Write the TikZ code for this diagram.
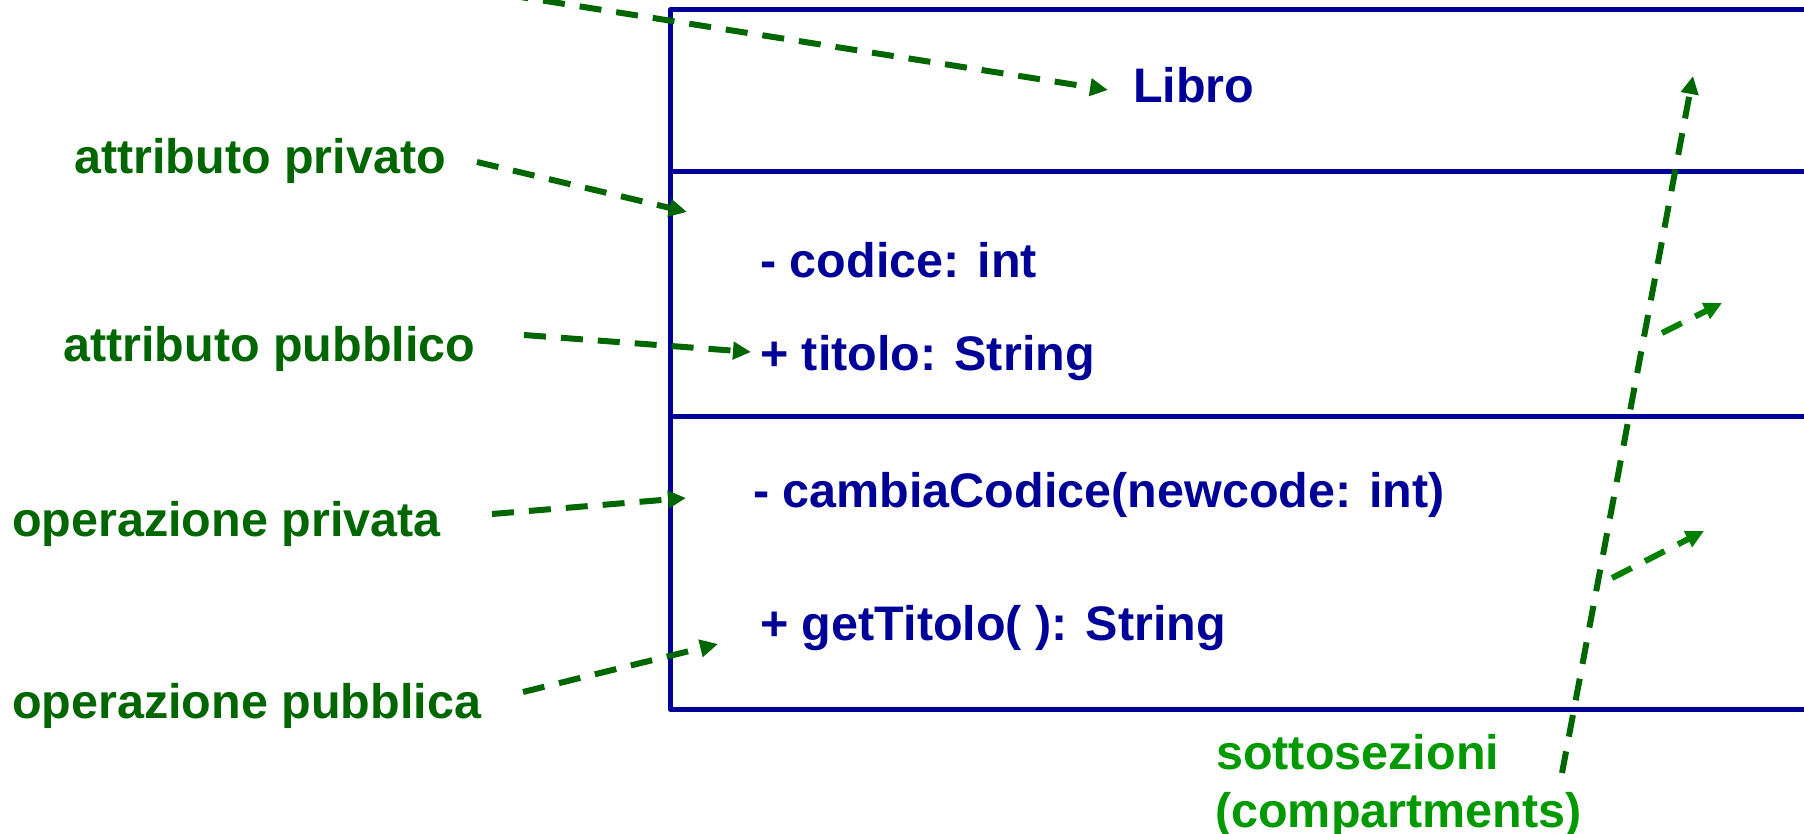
\documentclass[tikz,border=0pt]{standalone}
\usepackage{fontspec}
\setmainfont{Liberation Sans}
\usetikzlibrary{arrows.meta}
\definecolor{umlblue}{HTML}{000099}
\definecolor{notegreen}{HTML}{006600}
\definecolor{subgreen}{HTML}{009900}
\definecolor{branchgreen}{HTML}{007F00}
\begin{document}
\begin{tikzpicture}[x=1pt,y=-1pt,
  boxline/.style={draw=umlblue,line width=5pt,line join=round},
  member/.style={anchor=base west,inner sep=0pt,text=umlblue,font=\fontsize{48.5}{58}\selectfont\bfseries},
  notetext/.style={anchor=base west,inner sep=0pt,text=notegreen,font=\fontsize{48.5}{58}\selectfont\bfseries},
  pointer/.style={draw=notegreen,line width=6pt,dash pattern=on 22pt off 15pt,
    -{Triangle[length=18pt,width=17pt]}},
  branch/.style={pointer,draw=branchgreen}]
\useasboundingbox (0,0) rectangle (1804,834);
\clip (0,0) rectangle (1804,834);
% class box (extends beyond the right edge)
\draw[boxline] (1815,10) -- (670,10) -- (670,709) -- (1815,709);
\draw[boxline] (670,172) -- (1815,172);
\draw[boxline] (670,416) -- (1815,416);
% members
\node[member] (libro) at (1133,103) {Libro};
\node[member] (codice) at (760,278) {- codice: int};
\node[member] (titolo) at (760,370) {+ titolo: String};
\node[member] (cambia) at (753,507) {- cambiaCodice(newcode: int)};
\node[member] (gettit) at (760,640) {+ getTitolo( ): String};
% annotations
\node[notetext] (attpriv) at (74,174) {attributo privato};
\node[notetext] (attpub) at (63,361) {attributo pubblico};
\node[notetext] (oppriv) at (12,536) {operazione privata};
\node[notetext] (oppub) at (12,718) {operazione pubblica};
\node[notetext,text=subgreen] (sotto) at (1216,769) {sottosezioni};
\node[notetext,text=subgreen] (compart) at (1215,827) {(compartments)};
% connector ends
\coordinate (nameS) at (470,-11);
\coordinate (nameE) at (1108,90);
\coordinate (apS) at (477,162);
\coordinate (apE) at (687,212);
\coordinate (apuS) at (524,335);
\coordinate (apuE) at (751,352);
\coordinate (opS) at (492,514);
\coordinate (opE) at (686,498);
\coordinate (opuS) at (523,692);
\coordinate (opuE) at (718,644);
\coordinate (subS) at (1562,773);
\coordinate (subE) at (1693,76);
\coordinate (b1S) at (1662,333);
\coordinate (b1E) at (1722,303);
\coordinate (b2S) at (1612,578);
\coordinate (b2E) at (1704,531);
% connectors
\draw[pointer] (nameS) -- (nameE);
\draw[pointer] (apS) -- (apE);
\draw[pointer] (apuS) -- (apuE);
\draw[pointer] (opS) -- (opE);
\draw[pointer] (opuS) -- (opuE);
\draw[pointer] (subS) -- (subE);
\draw[branch] (b1S) -- (b1E);
\draw[branch] (b2S) -- (b2E);
\end{tikzpicture}
\end{document}
